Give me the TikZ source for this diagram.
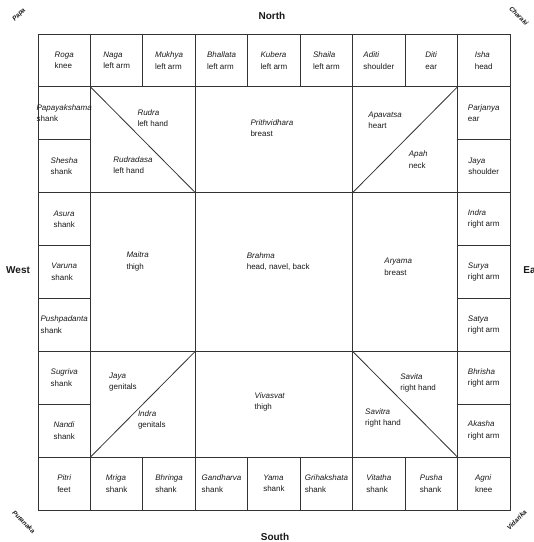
\documentclass[tikz,border=0pt]{standalone}
\usepackage{fontspec}
\setmainfont{Liberation Sans}
\usetikzlibrary{positioning}

\newcommand{\deity}[2]{\textit{#1}\\#2}

\begin{document}
\begin{tikzpicture}[
    x=52.44pt, y=-52.89pt,
    every node/.style={font=\fontsize{8}{11.5}\selectfont, text=black!90},
    part/.style={align=left, inner sep=1pt},
    grid/.style={line width=0.8pt, draw=black!80},
    dir/.style={font=\fontsize{10}{11}\selectfont\bfseries},
    corner/.style={font=\fontsize{6.5}{7}\selectfont\bfseries\itshape, inner sep=0pt},
]
\useasboundingbox (-0.725,-0.643) rectangle (9.458,9.606);

% --- frame and grid ---
\draw[grid] (0,0) rectangle (9,9);
\draw[grid] (0,1) -- (9,1) (0,8) -- (9,8) (1,0) -- (1,9) (8,0) -- (8,9);
\draw[grid] (2,0) -- (2,1) (3,0) -- (3,1) (4,0) -- (4,1) (5,0) -- (5,1) (6,0) -- (6,1) (7,0) -- (7,1);
\draw[grid] (2,8) -- (2,9) (3,8) -- (3,9) (4,8) -- (4,9) (5,8) -- (5,9) (6,8) -- (6,9) (7,8) -- (7,9);
\draw[grid] (0,2) -- (1,2) (0,3) -- (1,3) (0,4) -- (1,4) (0,5) -- (1,5) (0,6) -- (1,6) (0,7) -- (1,7);
\draw[grid] (8,2) -- (9,2) (8,3) -- (9,3) (8,4) -- (9,4) (8,5) -- (9,5) (8,6) -- (9,6) (8,7) -- (9,7);
\draw[grid] (3,1) -- (3,8) (6,1) -- (6,8) (1,3) -- (8,3) (1,6) -- (8,6);
\draw[grid] (1,1) -- (3,3) (8,1) -- (6,3) (3,6) -- (1,8) (6,6) -- (8,8);

% --- north row ---
\node[part] (roga) at (0.5,0.5) {\deity{Roga}{knee}};
\node[part] (naga) at (1.5,0.5) {\deity{Naga}{left arm}};
\node[part] (mukhya) at (2.5,0.5) {\deity{Mukhya}{left arm}};
\node[part] (bhallata) at (3.5,0.5) {\deity{Bhallata}{left arm}};
\node[part] (kubera) at (4.5,0.5) {\deity{Kubera}{left arm}};
\node[part] (shaila) at (5.5,0.5) {\deity{Shaila}{left arm}};
\node[part] (aditi) at (6.5,0.5) {\deity{Aditi}{shoulder}};
\node[part] (diti) at (7.5,0.5) {\deity{Diti}{ear}};
\node[part] (isha) at (8.5,0.5) {\deity{Isha}{head}};

% --- east column ---
\node[part] (parjanya) at (8.5,1.5) {\deity{Parjanya}{ear}};
\node[part] (jayae) at (8.5,2.5) {\deity{Jaya}{shoulder}};
\node[part] (indrae) at (8.5,3.5) {\deity{Indra}{right arm}};
\node[part] (surya) at (8.5,4.5) {\deity{Surya}{right arm}};
\node[part] (satya) at (8.5,5.5) {\deity{Satya}{right arm}};
\node[part] (bhrisha) at (8.5,6.5) {\deity{Bhrisha}{right arm}};
\node[part] (akasha) at (8.5,7.5) {\deity{Akasha}{right arm}};

% --- south row ---
\node[part] (pitri) at (0.5,8.5) {\deity{Pitri}{feet}};
\node[part] (mriga) at (1.5,8.5) {\deity{Mriga}{shank}};
\node[part] (bhringa) at (2.5,8.5) {\deity{Bhringa}{shank}};
\node[part] (gandharva) at (3.5,8.5) {\deity{Gandharva}{shank}};
\node[part] (yama) at (4.5,8.5) {\deity{Yama}{shank}};
\node[part] (grihakshata) at (5.5,8.5) {\deity{Grihakshata}{shank}};
\node[part] (vitatha) at (6.5,8.5) {\deity{Vitatha}{shank}};
\node[part] (pusha) at (7.5,8.5) {\deity{Pusha}{shank}};
\node[part] (agni) at (8.5,8.5) {\deity{Agni}{knee}};

% --- west column ---
\node[part] (papayakshama) at (0.5,1.5) {\deity{Papayakshama}{shank}};
\node[part] (shesha) at (0.5,2.5) {\deity{Shesha}{shank}};
\node[part] (asura) at (0.5,3.5) {\deity{Asura}{shank}};
\node[part] (varuna) at (0.5,4.5) {\deity{Varuna}{shank}};
\node[part] (pushpadanta) at (0.5,5.5) {\deity{Pushpadanta}{shank}};
\node[part] (sugriva) at (0.5,6.5) {\deity{Sugriva}{shank}};
\node[part] (nandi) at (0.5,7.5) {\deity{Nandi}{shank}};

% --- inner ring ---
\node[part] (rudra) at (2.19,1.59) {\deity{Rudra}{left hand}};
\node[part] (rudradasa) at (1.81,2.48) {\deity{Rudradasa}{left hand}};
\node[part] (prithvidhara) at (4.46,1.78) {\deity{Prithvidhara}{breast}};
\node[part] (apavatsa) at (6.62,1.63) {\deity{Apavatsa}{heart}};
\node[part] (apah) at (7.25,2.38) {\deity{Apah}{neck}};
\node[part] (maitra) at (1.9,4.3) {\deity{Maitra}{thigh}};
\node[part] (brahma) at (4.58,4.3) {\deity{Brahma}{head, navel, back}};
\node[part] (aryama) at (6.87,4.4) {\deity{Aryama}{breast}};
\node[part] (jaya) at (1.62,6.58) {\deity{Jaya}{genitals}};
\node[part] (indra) at (2.17,7.3) {\deity{Indra}{genitals}};
\node[part] (vivasvat) at (4.42,6.96) {\deity{Vivasvat}{thigh}};
\node[part] (savita) at (7.25,6.6) {\deity{Savita}{right hand}};
\node[part] (savitra) at (6.58,7.26) {\deity{Savitra}{right hand}};

% --- directions ---
\node[dir] (north) at (4.46,-0.34) {North};
\node[dir] (south) at (4.52,9.51) {South};
\node[dir] (west) at (-0.38,4.46) {West};
\node[dir, anchor=west] (east) at (9.19,4.46) {East};

% --- corners ---
\node[corner, rotate=45] (papa) at (-0.36,-0.36) {Papa};
\node[corner, rotate=-45] (charaki) at (9.17,-0.34) {Charaki};
\node[corner, rotate=-45] (putana) at (-0.27,9.23) {Putanaka};
\node[corner, rotate=45] (vidari) at (9.13,9.19) {Vidarika};

\end{tikzpicture}
\end{document}
